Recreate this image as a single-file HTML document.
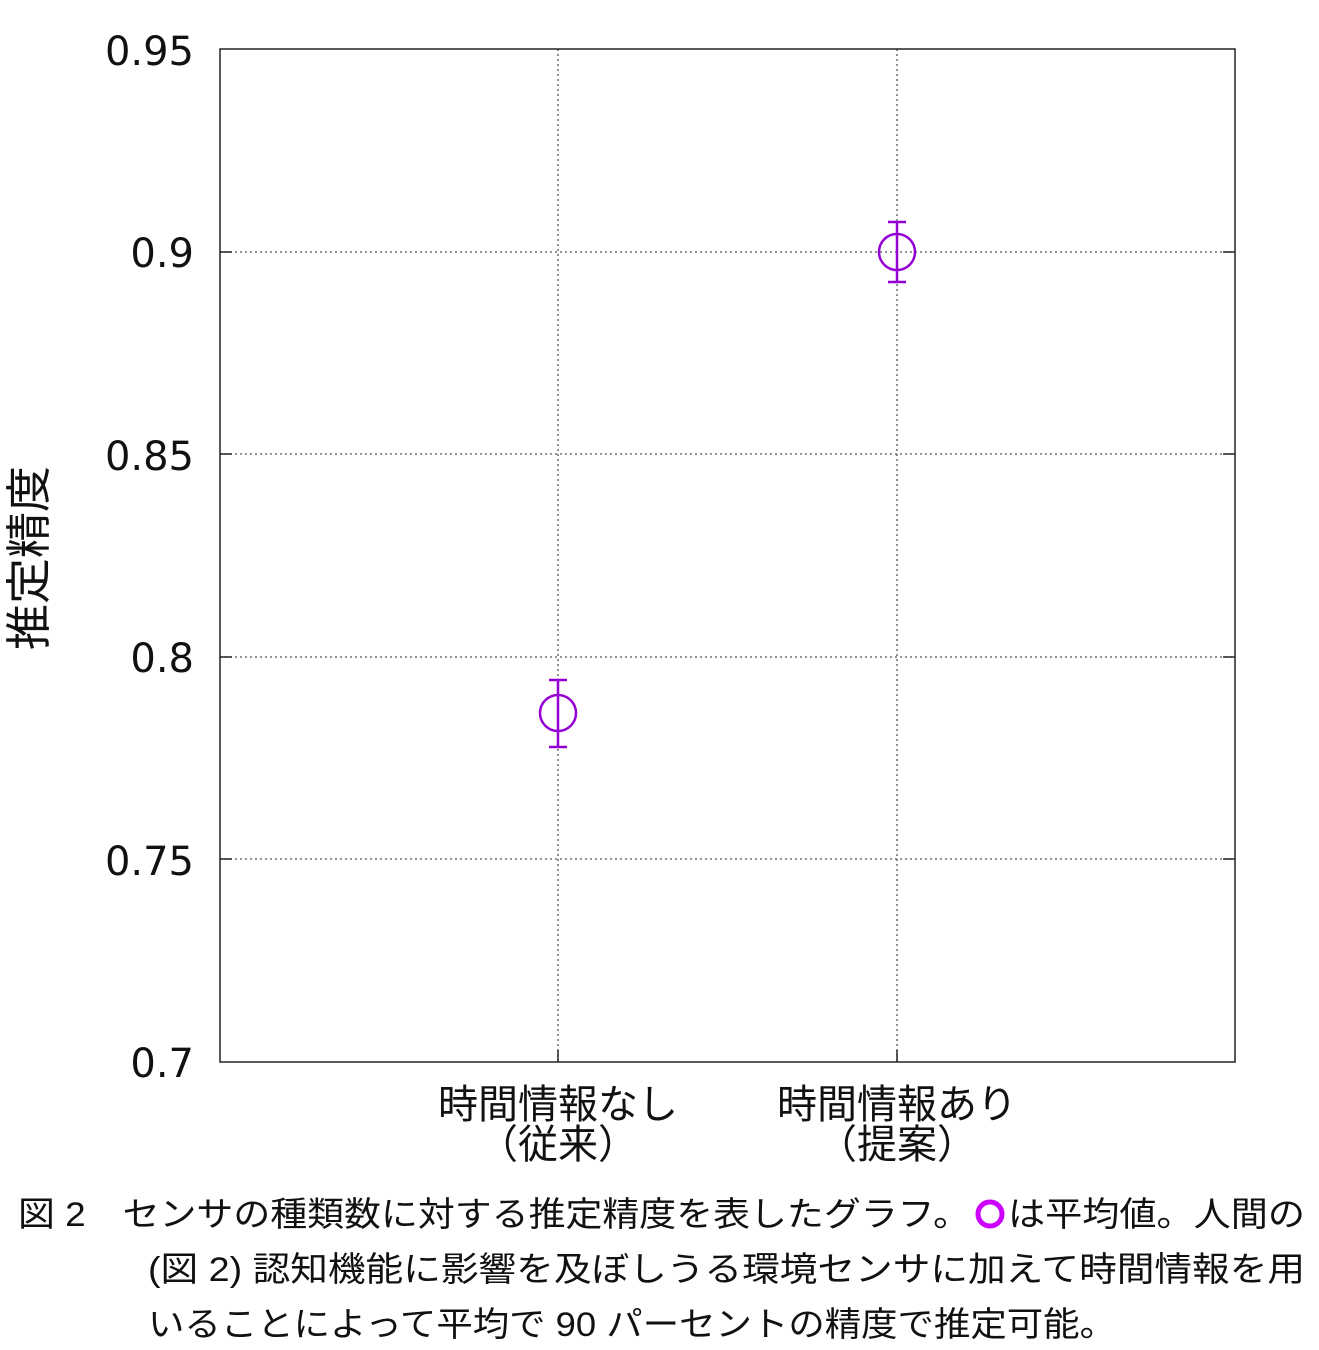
<!DOCTYPE html>
<html><head><meta charset="utf-8"><style>html,body{margin:0;padding:0;background:#fff}svg{display:block}</style></head>
<body>
<svg width="1319" height="1350" xmlns="http://www.w3.org/2000/svg" font-family="'Liberation Sans','Noto Sans CJK JP',sans-serif">
<rect width="1319" height="1350" fill="#fff"/>
<g stroke="#555" stroke-width="1.3" stroke-dasharray="2,3">
<line x1="220" y1="252" x2="1235" y2="252"/>
<line x1="220" y1="454" x2="1235" y2="454"/>
<line x1="220" y1="657" x2="1235" y2="657"/>
<line x1="220" y1="859" x2="1235" y2="859"/>
<line x1="558" y1="49" x2="558" y2="1062"/>
<line x1="897" y1="49" x2="897" y2="1062"/>
</g>
<rect x="220" y="49" width="1015" height="1013" fill="none" stroke="#222" stroke-width="1.5"/>
<g stroke="#222" stroke-width="1.5">
<line x1="220" y1="252" x2="232" y2="252"/><line x1="1235" y1="252" x2="1223" y2="252"/>
<line x1="220" y1="454" x2="232" y2="454"/><line x1="1235" y1="454" x2="1223" y2="454"/>
<line x1="220" y1="657" x2="232" y2="657"/><line x1="1235" y1="657" x2="1223" y2="657"/>
<line x1="220" y1="859" x2="232" y2="859"/><line x1="1235" y1="859" x2="1223" y2="859"/>
<line x1="558" y1="1062" x2="558" y2="1050"/><line x1="897" y1="1062" x2="897" y2="1050"/>
</g>
<g font-size="40" text-anchor="end" fill="#111" font-family="'DejaVu Sans',sans-serif">
<text x="194" y="65">0.95</text>
<text x="194" y="267">0.9</text>
<text x="194" y="470">0.85</text>
<text x="194" y="672">0.8</text>
<text x="194" y="875">0.75</text>
<text x="194" y="1077">0.7</text>
</g>
<text transform="translate(45,558) rotate(-90)" font-size="46" text-anchor="middle" fill="#111">推定精度</text>
<g font-size="40" text-anchor="middle" fill="#111">
<text x="558" y="1118">時間情報なし</text>
<text x="558" y="1158">（従来）</text>
<text x="897" y="1118">時間情報あり</text>
<text x="897" y="1158">（提案）</text>
</g>
<g stroke="#9400d3" stroke-width="2.5" fill="none">
<line x1="558" y1="680" x2="558" y2="747"/><line x1="549" y1="680" x2="567" y2="680"/><line x1="549" y1="747" x2="567" y2="747"/>
<circle cx="558" cy="713" r="18"/>
<line x1="897" y1="222" x2="897" y2="282"/><line x1="888" y1="222" x2="906" y2="222"/><line x1="888" y1="282" x2="906" y2="282"/>
<circle cx="897" cy="252" r="18"/>
</g>
<g font-size="34" fill="#111">
<text x="18" y="1226" textLength="952" lengthAdjust="spacingAndGlyphs">図 2　センサの種類数に対する推定精度を表したグラフ。</text>
<text x="1008" y="1226" textLength="297" lengthAdjust="spacingAndGlyphs">は平均値。人間の</text>
<text x="148" y="1281" textLength="1157" lengthAdjust="spacingAndGlyphs">(図 2) 認知機能に影響を及ぼしうる環境センサに加えて時間情報を用</text>
<text x="148" y="1336" textLength="968" lengthAdjust="spacingAndGlyphs">いることによって平均で 90 パーセントの精度で推定可能。</text>
</g>
<circle cx="990" cy="1214" r="12" fill="none" stroke="#cc00ff" stroke-width="5"/>
</svg>
</body></html>
